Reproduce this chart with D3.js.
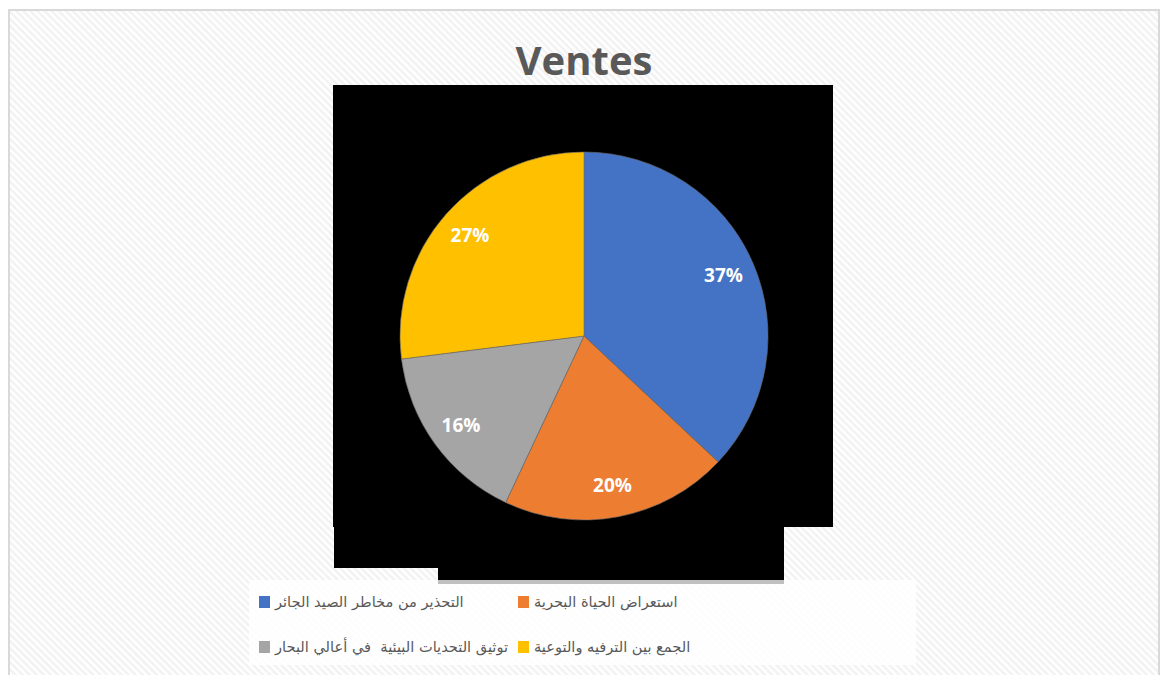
<!DOCTYPE html>
<meta charset="utf-8">
<style>
html, body {
    margin: 0;
    padding: 0;
    background: white;
}
svg {
    display: block;
}
.pct {
    font-family: "Open Sans", sans-serif;
    font-weight: bold;
    font-size: 19px;
    fill: #fff;
}
.legend text {
    font-family: "DejaVu Sans", sans-serif;
    font-size: 14.6px;
    fill: #595959;
    white-space: pre;
}
</style>
<body>
<script src="https://d3js.org/d3.v7.min.js"></script>
<script>

var width = 1161,
    height = 675;

// chart data
var categories = [
    "التحذير من مخاطر الصيد الجائر",
    "استعراض الحياة البحرية",
    "توثيق التحديات البيئية  في أعالي البحار",
    "الجمع بين الترفيه والتوعية"
];
var values = [37, 20, 16, 27];
var colors = ["#4472c4", "#ed7d31", "#a5a5a5", "#ffc000"];
var title = "Ventes";

var svg = d3.select("body").append("svg")
    .attr("width", width)
    .attr("height", height);

// faint diagonal hatch like the chart area fill
var defs = svg.append("defs");
var pat = defs.append("pattern")
    .attr("id", "hatch")
    .attr("patternUnits", "userSpaceOnUse")
    .attr("width", 5)
    .attr("height", 5)
    .attr("patternTransform", "rotate(45)");
pat.append("rect").attr("width", 5).attr("height", 5).attr("fill", "#ffffff");
pat.append("rect").attr("width", 5).attr("height", 2.5).attr("fill", "#f2f2f2");

svg.append("rect")
    .attr("x", 9)
    .attr("y", 10)
    .attr("width", 1150)
    .attr("height", 680)
    .attr("fill", "url(#hatch)")
    .attr("stroke", "#d9d9d9")
    .attr("stroke-width", 2);

// black blocks behind the pie
var blocks = svg.append("g");
blocks.append("rect").attr("x", 333).attr("y", 85).attr("width", 500).attr("height", 442).attr("fill", "#000");
blocks.append("rect").attr("x", 334).attr("y", 85).attr("width", 450).attr("height", 483).attr("fill", "#000");
blocks.append("rect").attr("x", 438).attr("y", 85).attr("width", 346).attr("height", 495).attr("fill", "#000");

svg.append("text")
    .attr("x", 584)
    .attr("y", 75)
    .attr("text-anchor", "middle")
    .style("font-family", "'Open Sans', sans-serif")
    .style("font-weight", "bold")
    .style("font-size", "40px")
    .style("fill", "#595959")
    .text(title);

// pie
var cx = 584, cy = 336, radius = 184;

var pie = d3.pie().sort(null).value(function(d) { return d; });
var arc = d3.arc().innerRadius(0).outerRadius(radius);
var labelArc = d3.arc().innerRadius(152).outerRadius(152);
var total = d3.sum(values);

var g = svg.append("g").attr("transform", "translate(" + cx + "," + cy + ")");
var slices = pie(values);

g.selectAll("path")
    .data(slices)
  .enter().append("path")
    .attr("d", arc)
    .attr("fill", function(d, i) { return colors[i]; })
    .attr("stroke", "#6b6b6b")
    .attr("stroke-width", 0.6);

g.selectAll("text")
    .data(slices)
  .enter().append("text")
    .attr("class", "pct")
    .attr("transform", function(d) { return "translate(" + labelArc.centroid(d) + ")"; })
    .attr("text-anchor", "middle")
    .attr("dy", "0.36em")
    .text(function(d) { return Math.round(d.value / total * 100) + "%"; });

// legend
var legend = svg.append("g").attr("class", "legend");
legend.append("rect")
    .attr("x", 249).attr("y", 580)
    .attr("width", 667).attr("height", 85)
    .attr("fill", "#fff")
    .attr("fill-opacity", 0.85);
legend.append("rect")
    .attr("x", 438).attr("y", 580).attr("width", 346).attr("height", 4)
    .attr("fill", "#c0c0c0");

var legendX = [259, 518],
    legendY = [602, 647];

var items = legend.selectAll("g.item")
    .data(categories)
  .enter().append("g")
    .attr("class", "item")
    .attr("transform", function(d, i) {
        return "translate(" + legendX[i % 2] + "," + legendY[Math.floor(i / 2)] + ")";
    });

items.append("rect")
    .attr("x", 0)
    .attr("y", -6)
    .attr("width", 11)
    .attr("height", 12)
    .attr("fill", function(d, i) { return colors[i]; });

items.append("text")
    .attr("x", 16)
    .attr("dy", "0.35em")
    .text(function(d) { return d; });

</script>
